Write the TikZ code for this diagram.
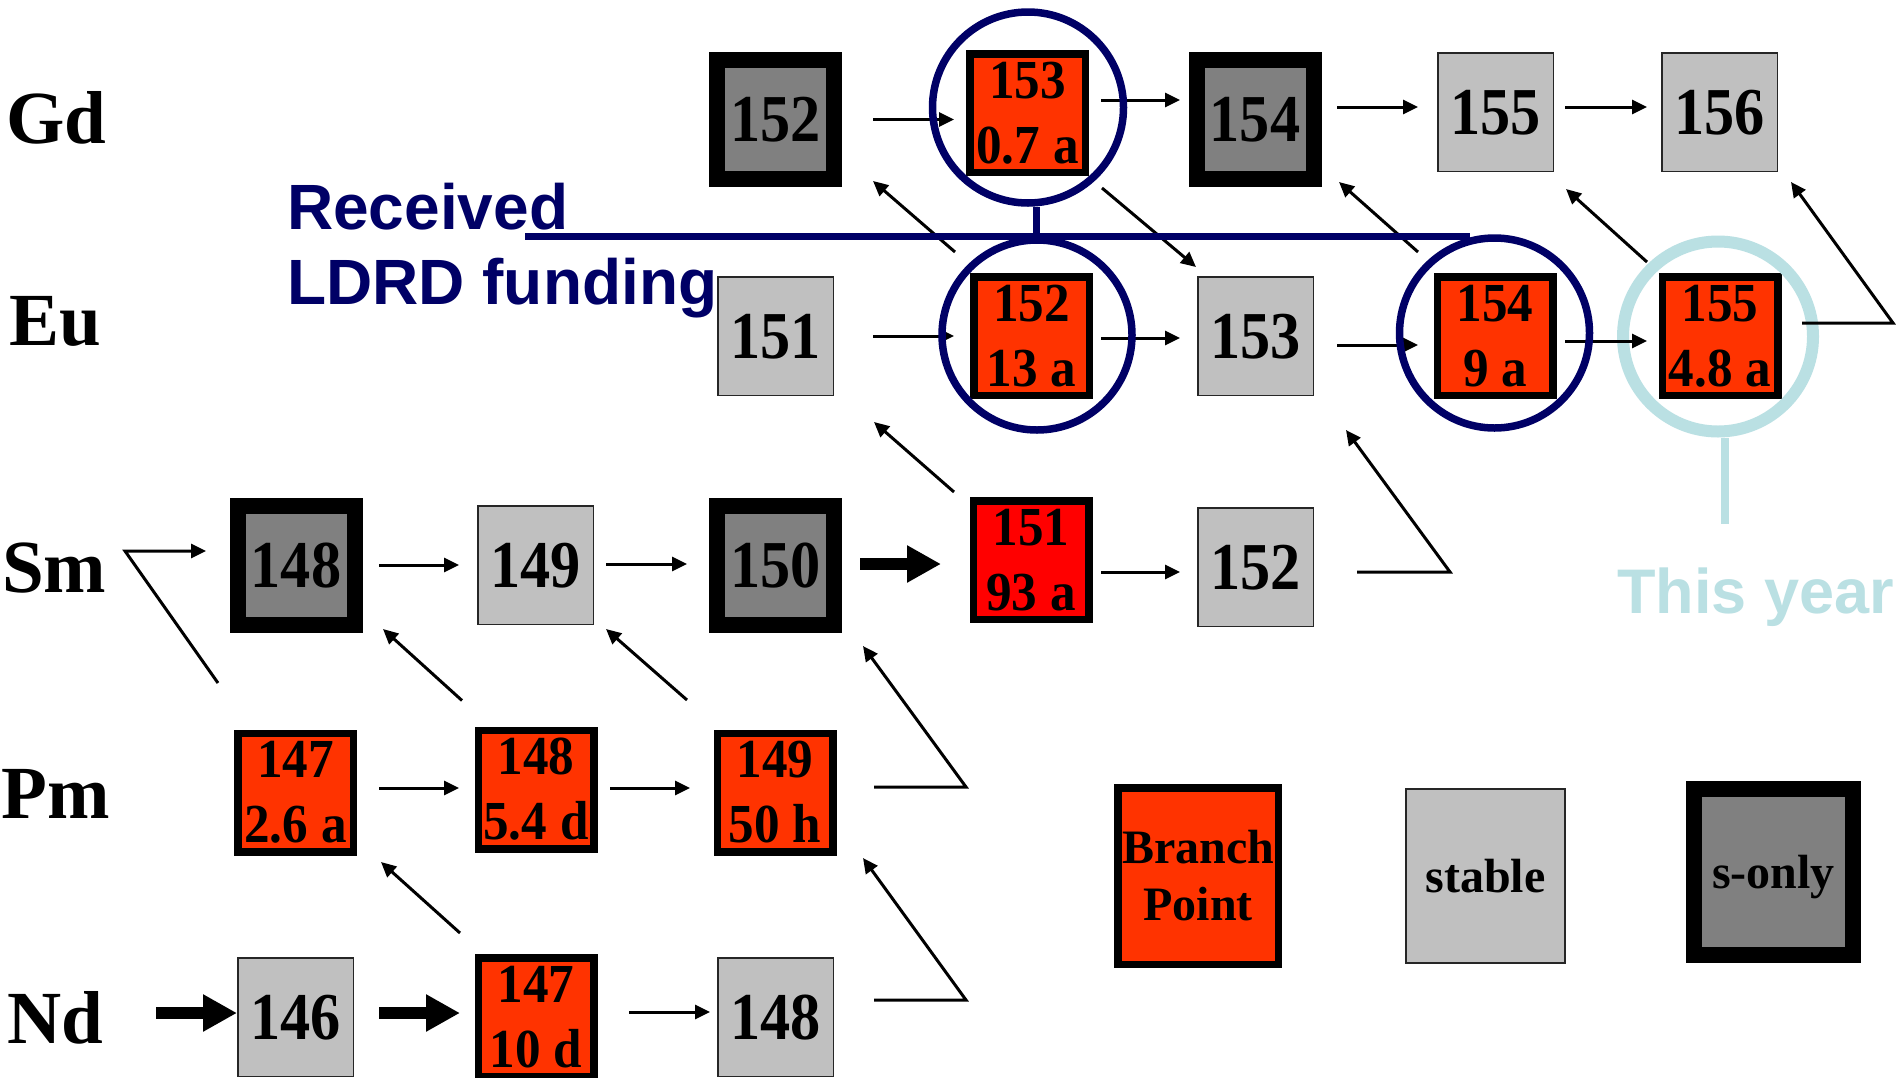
\documentclass[tikz,border=0pt]{standalone}
\usepackage{fontspec}
\setmainfont{Liberation Serif}
\newfontfamily\numfont[FakeStretch=0.9]{Liberation Serif}
\newfontfamily\halffont[FakeStretch=0.93]{Liberation Serif}
\newfontfamily\headfont{Liberation Sans}
\usetikzlibrary{arrows.meta,calc}
\definecolor{bpred}{HTML}{FF3300}
\definecolor{hotred}{HTML}{FF0000}
\definecolor{stablegray}{HTML}{C0C0C0}
\definecolor{sgray}{HTML}{808080}
\definecolor{ldrdnavy}{HTML}{000066}
\definecolor{yearblue}{HTML}{BAE0E3}
\begin{document}
\begin{tikzpicture}[x=1pt,y=-1pt,
  stablebox/.style={draw=black!85,line width=1.5pt,fill=stablegray,minimum width=115.5pt,minimum height=118.5pt,inner sep=0pt,text depth=0pt,font=\numfont\bfseries\fontsize{67}{67}\selectfont},
  sonlybox/.style={draw=black,line width=16pt,fill=sgray,minimum width=117pt,minimum height=119pt,inner sep=0pt,text depth=0pt,font=\numfont\bfseries\fontsize{67}{67}\selectfont},
  branchbox/.style={draw=black,line width=7.5pt,fill=bpred,minimum width=115.5pt,minimum height=118.5pt,inner sep=0pt,align=center,font=\halffont\bfseries\fontsize{55}{65}\selectfont},
  elem/.style={anchor=base west,inner sep=0pt,font=\bfseries\fontsize{75}{75}\selectfont},
  arr/.style={line width=3pt,-{Triangle[length=15pt,width=14pt]}},
  bigarr/.style={line width=12pt,-{Triangle[length=34pt,width=35pt]}},
  ldrdring/.style={circle,draw=ldrdnavy,line width=7.5pt,minimum size=190pt,inner sep=0pt},
  yearring/.style={circle,draw=yearblue,line width=12pt,minimum size=190pt,inner sep=0pt},
  ldrdline/.style={draw=ldrdnavy,line width=7pt},
  yearline/.style={draw=yearblue,line width=8pt}]

\fill[white] (0,0) rectangle (1903,1077);
\useasboundingbox (0,0) rectangle (1903,1077);

% element labels
\node[elem] (lblGd) at (6,143) {Gd};
\node[elem] (lblEu) at (9,345) {Eu};
\node[elem] (lblSm) at (2,592) {Sm};
\node[elem] (lblPm) at (1,818) {Pm};
\node[elem] (lblNd) at (7,1043) {Nd};

% isotopes
\node[sonlybox]  (gd152) at (775.5,119.5) {152};
\node[branchbox] (gd153) at (1027.5,113) {153\\0.7 a};
\node[sonlybox]  (gd154) at (1255,119.5) {154};
\node[stablebox] (gd155) at (1495.5,112) {155};
\node[stablebox] (gd156) at (1719.5,112) {156};

\node[stablebox] (eu151) at (775.5,336) {151};
\node[branchbox] (eu152) at (1031.5,336) {152\\13 a};
\node[stablebox] (eu153) at (1255.5,336) {153};
\node[branchbox] (eu154) at (1495,336) {154\\9 a};
\node[branchbox] (eu155) at (1720,336) {155\\4.8 a};

\node[sonlybox]  (sm148) at (296,565.5) {148};
\node[stablebox] (sm149) at (535.5,565) {149};
\node[sonlybox]  (sm150) at (775.5,565.5) {150};
\node[branchbox,fill=hotred] (sm151) at (1031,560) {151\\93 a};
\node[stablebox] (sm152) at (1255.5,567) {152};

\node[branchbox] (pm147) at (295.5,792.5) {147\\2.6 a};
\node[branchbox] (pm148) at (536,789.5) {148\\5.4 d};
\node[branchbox] (pm149) at (775,792.5) {149\\50 h};

\node[stablebox] (nd146) at (295.5,1017) {146};
\node[branchbox] (nd147) at (536,1017) {147\\10 d};
\node[stablebox] (nd148) at (775.5,1017) {148};

% legend
\node[branchbox,minimum width=160.5pt,minimum height=176.5pt,font=\bfseries\fontsize{48}{57}\selectfont] (legbp) at (1198,876) {Branch\\Point};
\node[stablebox,minimum width=159pt,minimum height=174pt,font=\bfseries\fontsize{48}{48}\selectfont] (legst) at (1485.5,876) {stable};
\node[sonlybox,minimum width=159pt,minimum height=166pt,font=\bfseries\fontsize{48}{48}\selectfont] (legso) at (1773.5,872) {s-only};

% ring marking this year's isotope (under the arrows)
\node[yearring] (ringeu155) at (1718,336.5) {};
\coordinate (yearstub) at (1725,524);
\draw[yearline] ([xshift=7pt]ringeu155.south) -- (yearstub);

% neutron captures
\draw[arr] ([xshift=31pt]gd152.east) -- ([xshift=-12pt,yshift=-6.5pt]gd153.west);
\draw[arr] ([xshift=12pt,yshift=13pt]gd153.east) -- ([xshift=-8.5pt,yshift=19.5pt]gd154.west);
\draw[arr] ([xshift=15.5pt,yshift=12.5pt]gd154.east) -- ([xshift=-19pt,yshift=5pt]gd155.west);
\draw[arr] ([xshift=11pt,yshift=5pt]gd155.east) -- ([xshift=-14pt,yshift=5pt]gd156.west);

\draw[arr] ([xshift=39pt]eu151.east) -- ([xshift=-16pt]eu152.west);
\draw[arr] ([xshift=8pt,yshift=-2pt]eu152.east) -- ([xshift=-17pt,yshift=-2pt]eu153.west);
\draw[arr] ([xshift=23pt,yshift=-9pt]eu153.east) -- ([xshift=-15.5pt,yshift=-9pt]eu154.west);
\draw[arr] ([xshift=8.5pt,yshift=-5pt]eu154.east) -- ([xshift=-11.5pt,yshift=-5pt]eu155.west);

\draw[arr] ([xshift=16.5pt,yshift=0.5pt]sm148.east) -- ([xshift=-18pt]sm149.west);
\draw[arr] ([xshift=12pt,yshift=1pt]sm149.east) -- ([xshift=-22pt,yshift=1.5pt]sm150.west);
\draw[bigarr] ([xshift=18pt,yshift=1.5pt]sm150.east) -- ([xshift=-28.5pt,yshift=-4pt]sm151.west);
\draw[arr] ([xshift=8.5pt,yshift=-12pt]sm151.east) -- ([xshift=-17pt,yshift=-5pt]sm152.west);

\draw[arr] ([xshift=22pt,yshift=4.5pt]pm147.east) -- ([xshift=-15.5pt,yshift=1.5pt]pm148.west);
\draw[arr] ([xshift=12.5pt,yshift=1.5pt]pm148.east) -- ([xshift=-23.5pt,yshift=4.5pt]pm149.west);

\coordinate (ndsrc) at (156,1013);
\draw[bigarr] (ndsrc) -- ([yshift=4pt]nd146.west);
\draw[bigarr] ([xshift=25pt,yshift=4pt]nd146.east) -- ([xshift=-14.5pt,yshift=4pt]nd147.west);
\draw[arr] ([xshift=31.5pt,yshift=5pt]nd147.east) -- ([xshift=-7pt,yshift=5pt]nd148.west);

% beta decays
\draw[arr] ([xshift=-15pt,yshift=21pt]eu152.north west) -- ([xshift=31pt,yshift=6pt]gd152.south east);
\draw[arr] ([xshift=13pt,yshift=-12pt]gd153.south east) -- ([xshift=-1pt,yshift=9pt]eu153.north west);
\draw[arr] ([xshift=-15.5pt,yshift=21pt]eu154.north west) -- ([xshift=17.5pt,yshift=5pt]gd154.south east);
\draw[arr] ([xshift=-11.5pt,yshift=11pt]eu155.north west) -- ([xshift=12pt,yshift=-17pt]gd155.south east);
\draw[arr] ([xshift=20.5pt,yshift=13pt]eu155.east) -- ++(91,0) -- ([xshift=13pt,yshift=-10pt]gd156.south east);
\draw[arr] ([xshift=-15.5pt,yshift=5pt]sm151.north west) -- ([xshift=40pt,yshift=-26pt]eu151.south east);
\draw[arr] ([xshift=43pt,yshift=-5pt]sm152.east) -- ++(93,0) -- ([xshift=32pt,yshift=-34pt]eu153.south east);
\draw[arr] ([xshift=-12.5pt,yshift=26pt]pm148.north west) -- ([xshift=20.5pt,yshift=4pt]sm148.south east);
\draw[arr] ([xshift=-26.5pt,yshift=29.5pt]pm149.north west) -- ([xshift=12pt,yshift=-4pt]sm149.south east);
\draw[arr] ([xshift=37.5pt,yshift=5.5pt]pm149.east) -- ++(92,0) -- ([xshift=21pt,yshift=-13pt]sm150.south east);
\draw[arr] ([xshift=-14.5pt,yshift=21pt]nd147.north west) -- ([xshift=24pt,yshift=-6.5pt]pm147.south east);
\draw[arr] ([xshift=40pt,yshift=17pt]nd148.east) -- ++(92,0) -- ([xshift=26.5pt,yshift=-2.5pt]pm149.south east);
\draw[arr] ([xshift=-16pt,yshift=46.5pt]pm147.north west) -- ++(-93,-132) -- ([xshift=-23.5pt,yshift=14.5pt]sm148.west);

% funded isotopes
\node[ldrdring,minimum size=191pt] (ringgd153) at (1028,107.5) {};
\node[ldrdring] (ringeu152) at (1037,335) {};
\node[ldrdring] (ringeu154) at (1494.5,333) {};
\coordinate (barW) at (525,236.5);
\coordinate (barE) at (1470,236.5);
\draw[ldrdline] (barW) -- (barE);
\draw[ldrdline] ([xshift=8pt]ringgd153.south) -- ([xshift=8pt]ringgd153.south |- barW);

% captions
\node[anchor=north west,inner sep=0pt,align=left,text=ldrdnavy,font=\headfont\bfseries\fontsize{64}{75}\selectfont] (ldrd) at (287,183) {Received\\LDRD funding};
\node[anchor=base west,inner sep=0pt,text=yearblue,font=\headfont\bfseries\fontsize{63}{63}\selectfont] (thisyear) at (1617,613) {This year};
\end{tikzpicture}
\end{document}
